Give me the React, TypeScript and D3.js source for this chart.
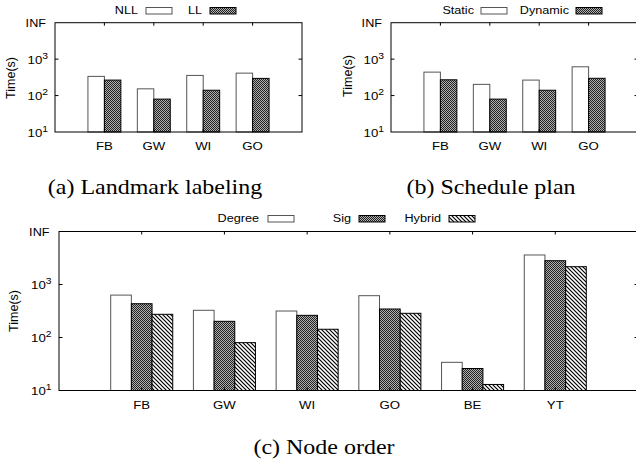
import React, { useEffect, useRef } from 'react';
import * as d3 from 'd3';

// ---- data ----
const smallCats = ['FB', 'GW', 'WI', 'GO'];
const nodeCats = ['FB', 'GW', 'WI', 'GO', 'BE', 'YT'];

const nllTimes = [336, 153, 357, 413];
const llTimes = [266, 80, 140, 296];

const staticTimes = [440, 203, 266, 616];
const dynamicTimes = [271, 80, 140, 298];

const degreeTimes = [631, 326, 316, 615, 34, 3605];
const sigTimes = [434, 202, 262, 345, 26, 2812];
const hybridTimes = [274, 80, 143, 286, 13, 2168];

const yTicks = [10, 100, 1000, 10000];
const yTickExp = ['1', '2', '3', ''];

const SANS = '"Liberation Sans", Arial, Helvetica, sans-serif';
const SERIF = '"Liberation Serif", "Times New Roman", serif';
const SX = 1.15; // the picture is stretched a bit horizontally

type Series = { name: string; values: number[]; fill: string; stroke: string };

function sText(
  parent: any,
  x: number,
  y: number,
  str: string,
  anchor: string,
  size = 11,
  family = SANS,
  sx = SX
) {
  const g = parent.append('g').attr('transform', `translate(${x},${y}) scale(${sx},1)`);
  return g
    .append('text')
    .attr('text-anchor', anchor)
    .attr('font-family', family)
    .attr('font-size', size)
    .attr('fill', '#000')
    .text(str);
}

function drawPanel(svg: any, cfg: any) {
  const { left, right, top, bottom, cats, series, barW, legend, ylab, tickRight, labelY } = cfg;
  const g = svg.append('g');

  const x = d3.scaleLinear().domain([-1, cats.length]).range([left, right]);
  const y = d3.scaleLog().domain([10, 10000]).range([bottom, top]);
  const n = series.length;

  // ------- bars -------
  series.forEach((s: Series, si: number) => {
    g.selectAll(null)
      .data(s.values)
      .enter()
      .append('rect')
      .attr('x', (_d: number, i: number) => x(i + (si - n / 2) * barW))
      .attr('width', x(barW) - x(0))
      .attr('y', (d: number) => y(d))
      .attr('height', (d: number) => bottom - y(d))
      .attr('fill', s.fill)
      .attr('stroke', s.stroke)
      .attr('stroke-width', 1);
  });

  // ------- frame -------
  g.append('rect')
    .attr('x', left)
    .attr('y', top)
    .attr('width', right - left)
    .attr('height', bottom - top)
    .attr('fill', 'none')
    .attr('stroke', '#000')
    .attr('stroke-width', 1);

  // y ticks (inward, mirrored)
  yTicks.slice(1, 3).forEach((t) => {
    g.append('line').attr('x1', left).attr('x2', left + 3.5).attr('y1', y(t)).attr('y2', y(t)).attr('stroke', '#000');
    g.append('line').attr('x1', right).attr('x2', right - 3.5).attr('y1', y(t)).attr('y2', y(t)).attr('stroke', '#000');
  });
  // x ticks (inward, mirrored)
  cats.forEach((_c: string, i: number) => {
    g.append('line').attr('x1', x(i)).attr('x2', x(i)).attr('y1', top).attr('y2', top + 3).attr('stroke', '#000');
    g.append('line').attr('x1', x(i)).attr('x2', x(i)).attr('y1', bottom).attr('y2', bottom - 3).attr('stroke', '#000');
  });

  // y tick labels
  yTicks.forEach((t, i) => {
    const exp = yTickExp[i];
    if (exp === '') {
      sText(g, tickRight - 2, y(t) + 4, 'INF', 'end');
    } else {
      const txt = sText(g, tickRight, y(t) + 4.5, '', 'end', 11.5);
      txt.append('tspan').text('10');
      txt.append('tspan').attr('font-size', 9).attr('dy', -5).text(exp);
    }
  });

  // x labels
  cats.forEach((c: string, i: number) => {
    sText(g, x(i), labelY, c, 'middle', 11.5);
  });

  // y axis title
  g.append('g')
    .attr('transform', `translate(${ylab.x},${ylab.y}) rotate(-90)`)
    .append('text')
    .attr('text-anchor', 'middle')
    .attr('font-family', SANS)
    .attr('font-size', 12.5)
    .text('Time(s)');

  // ------- legend -------
  series.forEach((s: Series, si: number) => {
    const l = legend.items[si];
    sText(g, l.textEnd, legend.base, s.name, 'end');
    g.append('rect')
      .attr('x', l.box)
      .attr('y', legend.base - 6.5)
      .attr('width', 26)
      .attr('height', 6.5)
      .attr('fill', s.fill)
      .attr('stroke', s.stroke)
      .attr('stroke-width', 1);
  });
}

export default function App() {
  const ref = useRef<SVGSVGElement>(null);

  useEffect(() => {
    if (!ref.current) return;
    const svg = d3.select(ref.current);
    svg.selectAll('*').remove();

    const defs = svg.append('defs');
    const dots = defs
      .append('pattern')
      .attr('id', 'dots')
      .attr('patternUnits', 'userSpaceOnUse')
      .attr('width', 2)
      .attr('height', 2);
    dots.append('rect').attr('width', 2).attr('height', 2).attr('fill', '#b0b0b0');
    dots.append('rect').attr('width', 1).attr('height', 1).attr('fill', '#222');
    dots.append('rect').attr('x', 1).attr('y', 1).attr('width', 1).attr('height', 1).attr('fill', '#222');

    const hatch = defs
      .append('pattern')
      .attr('id', 'hatch')
      .attr('patternUnits', 'userSpaceOnUse')
      .attr('width', 4)
      .attr('height', 4);
    hatch.append('rect').attr('width', 4).attr('height', 4).attr('fill', '#fff');
    hatch
      .append('path')
      .attr('d', 'M-1,-1 L5,5 M-1,3 L1,5 M3,-1 L5,1')
      .attr('stroke', '#000')
      .attr('stroke-width', 1.2);

    const white = '#fff';
    const grey = '#555';

    drawPanel(svg, {
      left: 55, right: 302, top: 22.7, bottom: 132,
      cats: smallCats, barW: 1 / 3, tickRight: 48, labelY: 150,
      ylab: { x: 15, y: 78 },
      series: [
        { name: 'NLL', values: nllTimes, fill: white, stroke: grey },
        { name: 'LL', values: llTimes, fill: 'url(#dots)', stroke: '#000' },
      ],
      legend: { base: 14, items: [{ textEnd: 138, box: 146 }, { textEnd: 202, box: 210 }] },
    });

    drawPanel(svg, {
      left: 391, right: 638, top: 22.7, bottom: 132,
      cats: smallCats, barW: 1 / 3, tickRight: 384, labelY: 150,
      ylab: { x: 352, y: 76 },
      series: [
        { name: 'Static', values: staticTimes, fill: white, stroke: grey },
        { name: 'Dynamic', values: dynamicTimes, fill: 'url(#dots)', stroke: '#000' },
      ],
      legend: { base: 14, items: [{ textEnd: 474, box: 481 }, { textEnd: 569, box: 576 }] },
    });

    drawPanel(svg, {
      left: 59, right: 638, top: 231.5, bottom: 390.5,
      cats: nodeCats, barW: 0.25, tickRight: 51.5, labelY: 409,
      ylab: { x: 18, y: 311 },
      series: [
        { name: 'Degree', values: degreeTimes, fill: white, stroke: grey },
        { name: 'Sig', values: sigTimes, fill: 'url(#dots)', stroke: '#000' },
        { name: 'Hybrid', values: hybridTimes, fill: 'url(#hatch)', stroke: '#000' },
      ],
      legend: {
        base: 222,
        items: [
          { textEnd: 259, box: 268 },
          { textEnd: 351, box: 359 },
          { textEnd: 441, box: 449 },
        ],
      },
    });

    // captions
    sText(svg, 155, 194, '(a) Landmark labeling', 'middle', 20, SERIF, 1.2);
    sText(svg, 491, 194, '(b) Schedule plan', 'middle', 20, SERIF, 1.2);
    sText(svg, 324, 454, '(c) Node order', 'middle', 20, SERIF, 1.2);
  }, []);

  return (
    <svg
      ref={ref}
      width={636}
      height={464}
      style={{ position: 'absolute', left: 0, top: 0, background: '#fff' }}
    />
  );
}
